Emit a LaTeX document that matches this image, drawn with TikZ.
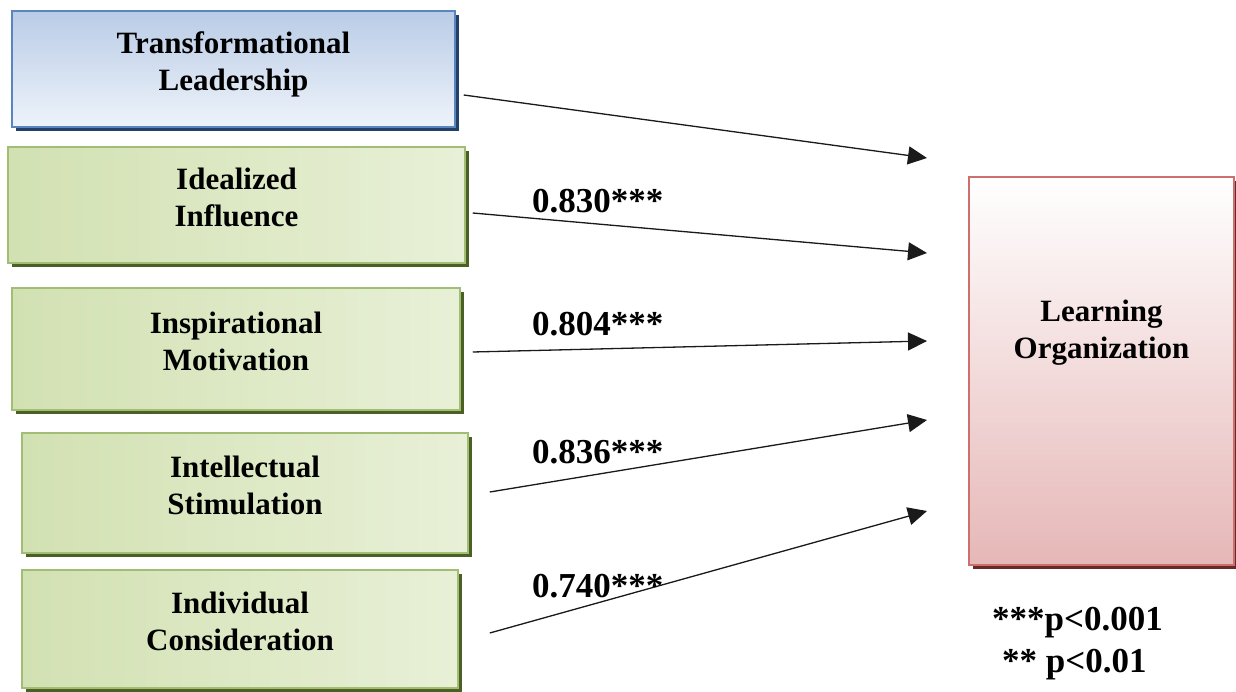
\documentclass[tikz,border=0pt]{standalone}
\usepackage{fontspec}
\setmainfont{Liberation Serif}
\usetikzlibrary{arrows.meta,shadows}
\definecolor{lrnBlue}{HTML}{5B86BD}
\definecolor{lrnSkyTop}{HTML}{B9CCE6}
\definecolor{lrnSkyBot}{HTML}{EEF3FA}
\definecolor{lrnNavy}{HTML}{23406A}
\definecolor{lrnGreenL}{HTML}{D2E1B2}
\definecolor{lrnGreenR}{HTML}{E8F0D7}
\definecolor{lrnGreenEdge}{HTML}{A2BE74}
\definecolor{lrnOlive}{HTML}{4B6024}
\definecolor{lrnPinkBot}{HTML}{E6B7B7}
\definecolor{lrnRedEdge}{HTML}{CC6F6D}
\definecolor{lrnMaroon}{HTML}{6A2826}
\definecolor{lrnInk}{HTML}{1A1A1A}
\newcommand{\boxfont}{\fontsize{31}{37}\selectfont\bfseries}
\newcommand{\coeffont}{\fontsize{35}{42}\selectfont\bfseries}
\tikzset{
  >={Triangle[length=19pt,width=18pt]},
  lead/.style={draw=lrnBlue, line width=1.5pt, top color=lrnSkyTop, bottom color=lrnSkyBot,
              align=center, inner sep=0pt, font=\boxfont, text depth=16pt,
              drop shadow={shadow xshift=4pt, shadow yshift=-4pt, fill=lrnNavy, opacity=1}},
  dim/.style={draw=lrnGreenEdge, line width=1.5pt, left color=lrnGreenL, right color=lrnGreenR,
              align=center, inner sep=0pt, font=\boxfont, text depth=16pt,
              drop shadow={shadow xshift=4pt, shadow yshift=-4pt, fill=lrnOlive, opacity=1}},
  outcome/.style={draw=lrnRedEdge, line width=1.5pt, top color=white, bottom color=lrnPinkBot,
              inner sep=0pt,
              drop shadow={shadow xshift=4pt, shadow yshift=-4pt, fill=lrnMaroon, opacity=1}},
  txt/.style={align=center, font=\boxfont},
  coef/.style={anchor=base west, inner sep=0pt, font=\coeffont},
  path/.style={->, draw=lrnInk, fill=black, line width=1.3pt},
}
\begin{document}
\begin{tikzpicture}[x=1pt, y=-1pt]
    \useasboundingbox (0,0) rectangle (1236,692);
    % predictors
    \node[lead, minimum width=443pt, minimum height=116pt] (tl) at (233.5,69) {Transformational\\Leadership};
    \foreach \n/\cx/\cy/\w/\h/\t in {id/236.5/205/457/116/{Idealized\\Influence},
                                   im/236/349/448/122/{Inspirational\\Motivation},
                                   is/245/493/446/120/{Intellectual\\Stimulation},
                                   ic/240/629/436/118/{Individual\\Consideration}}{
      \node[dim, minimum width=\w pt, minimum height=\h pt] (\n) at (\cx,\cy) {\t};
    }
    % outcome
    \node[outcome, minimum width=265pt, minimum height=388pt] (lo) at (1101.5,371) {};
    \node[txt] (lotxt) at ([yshift=38pt]lo.center) {Learning\\Organization};
    % arrows
    \foreach \n/\dx/\dy/\ty in {tl/8/26/158, id/7/8/253, im/12/3/341, is/21/-1/420, ic/31/4/511}{
      \coordinate (in-\n) at (927,\ty);
      \draw[path] ([shift={(\dx,\dy)}]\n.east) -- (in-\n);
    }
    \foreach \n/\y/\v in {id/213/0.830, im/336/0.804, is/463/0.836, ic/597/0.740}{
      \node[coef] (c-\n) at (532,\y) {\v***};
    }
    % significance
    \node[coef] (key1) at (992,630) {***p<0.001};
    \node[coef] (key2) at (1002,672) {** p<0.01};
  \end{tikzpicture}
\end{document}
